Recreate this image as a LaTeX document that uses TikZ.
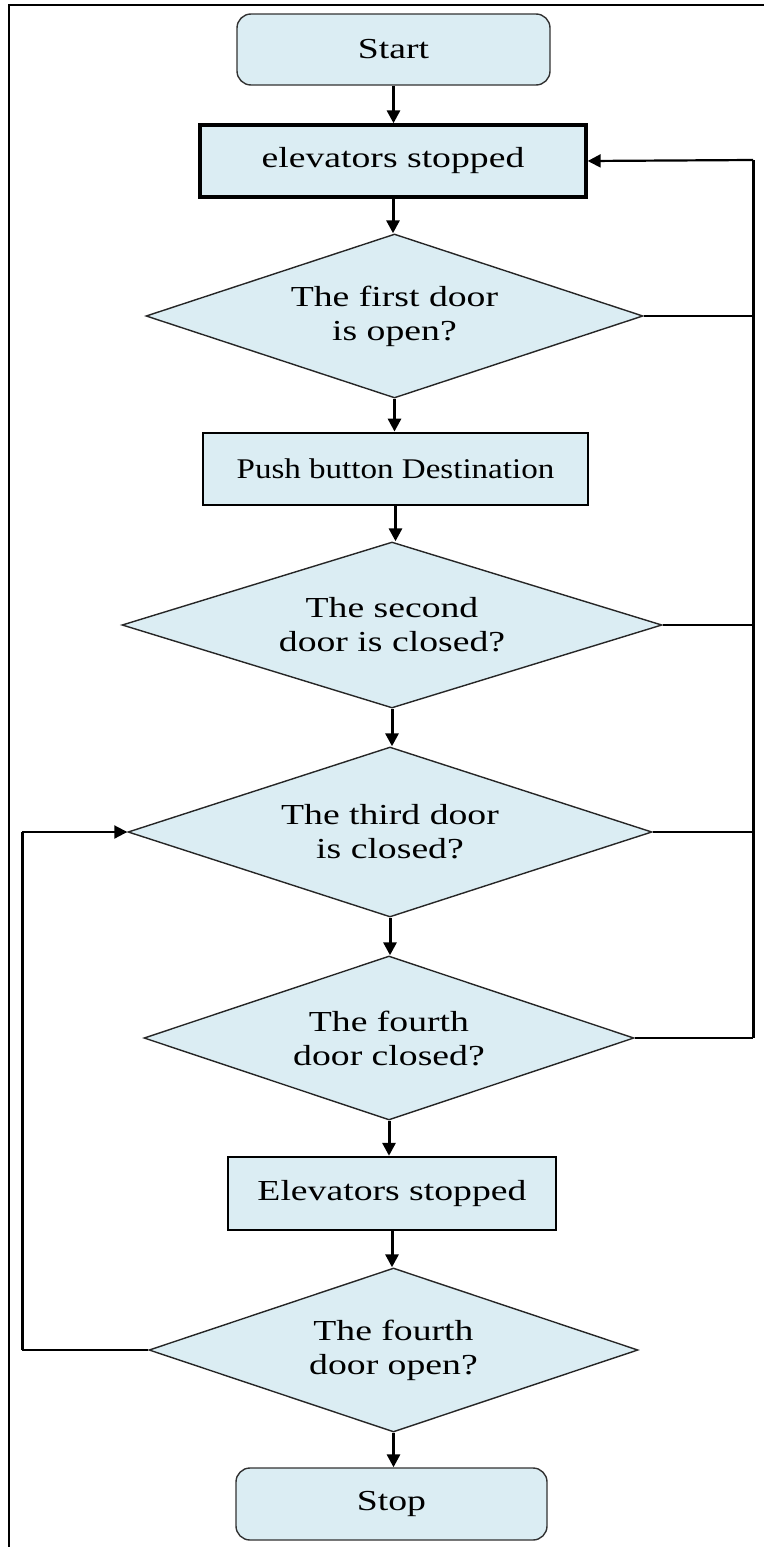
\documentclass[tikz,border=0pt]{standalone}
\usepackage{fontspec}
\setmainfont{Liberation Serif}[FakeStretch=1.3]
\newfontfamily\narrowserif{Liberation Serif}[FakeStretch=1.16]
\usetikzlibrary{shapes.geometric,arrows.meta}
\definecolor{boxfill}{RGB}{219,237,243}
\definecolor{termline}{RGB}{50,50,50}
\tikzset{
  txt/.style={font=\fontsize{29}{34}\selectfont, align=center, text=black},
  term/.style={txt, draw=termline, fill=boxfill, rounded corners=14pt, line width=1.4pt, inner sep=0pt},
  procbox/.style={txt, draw=black, fill=boxfill, inner sep=0pt},
  decision/.style={txt, draw=black!85, fill=boxfill, diamond, aspect=3, inner sep=0pt, line width=1.4pt},
  flow/.style={line width=3pt, -{Triangle[length=13pt,width=13pt]}},
  vline/.style={line width=3pt},
  hline/.style={line width=1.8pt},
}
\begin{document}
\begin{tikzpicture}[x=1pt,y=-1pt]
\useasboundingbox (0,0) rectangle (764,1547);
% frame
\draw[line width=2pt] (9,1547) -- (9,5) -- (764,5);

\node[term, minimum width=313pt, minimum height=71pt] (start) at (393.5,49.5) {Start};
\node[procbox, line width=3.4pt, minimum width=386pt, minimum height=72pt] (b1) at (393,161) {elevators stopped};
\node[decision, minimum width=497pt, minimum height=164pt] (d1) at (394.5,316) {The first door\\is open?};
\node[procbox, line width=2.8pt, minimum width=385pt, minimum height=72pt, font=\narrowserif\fontsize{28.5}{33}\selectfont] (b2) at (395.5,469) {Push button Destination};
\node[decision, minimum width=540pt, minimum height=166pt] (d2) at (392,625) {The second\\door is closed?};
\node[decision, minimum width=524pt, minimum height=170pt] (d3) at (390,832) {The third door\\is closed?};
\node[decision, minimum width=490pt, minimum height=164pt] (d4) at (389,1038) {The fourth\\door closed?};
\node[procbox, line width=2.4pt, minimum width=328pt, minimum height=73pt] (b4) at (392,1193.5) {Elevators stopped};
\node[decision, minimum width=489pt, minimum height=164pt] (d5) at (393.5,1350) {The fourth\\door open?};
\node[term, minimum width=311pt, minimum height=72pt] (stop) at (391.5,1504) {Stop};

% main flow
\draw[flow] (start.south) -- (start.south |- b1.north);
\draw[flow] (b1.south) -- (b1.south |- d1.north);
\draw[flow] (d1.south) -- (d1.south |- b2.north);
\draw[flow] (b2.south) -- (b2.south |- d2.north);
\draw[flow] (d2.south) -- (d2.south |- d3.north);
\draw[flow] (d3.south) -- (d3.south |- d4.north);
\draw[flow] (d4.south) -- (d4.south |- b4.north);
\draw[flow] (b4.south) -- (b4.south |- d5.north);
\draw[flow] (d5.south) -- (d5.south |- stop.north);

% right return line
\coordinate (rtop) at (753,160);
\coordinate (rbot) at (753,1038);
\draw[vline] (rbot) -- (rtop);
\draw[line width=2.2pt, -{Triangle[length=13pt,width=13pt]}] (rtop) -- (b1.east);
\draw[hline] (d1.east) -- (d1.east -| rtop);
\draw[line width=2.2pt] (d2.east) -- (d2.east -| rtop);
\draw[hline] (d3.east) -- (d3.east -| rtop);
\draw[line width=2.2pt] (d4.east) -- (rbot);

% left return line
\coordinate (lbot) at (22,1350);
\coordinate (ltop) at (22,832);
\draw[line width=2.2pt] (d5.west) -- (lbot);
\draw[vline] (lbot) -- (ltop);
\draw[line width=2pt, -{Triangle[length=13pt,width=13pt]}] (ltop) -- (d3.west);
\end{tikzpicture}
\end{document}
